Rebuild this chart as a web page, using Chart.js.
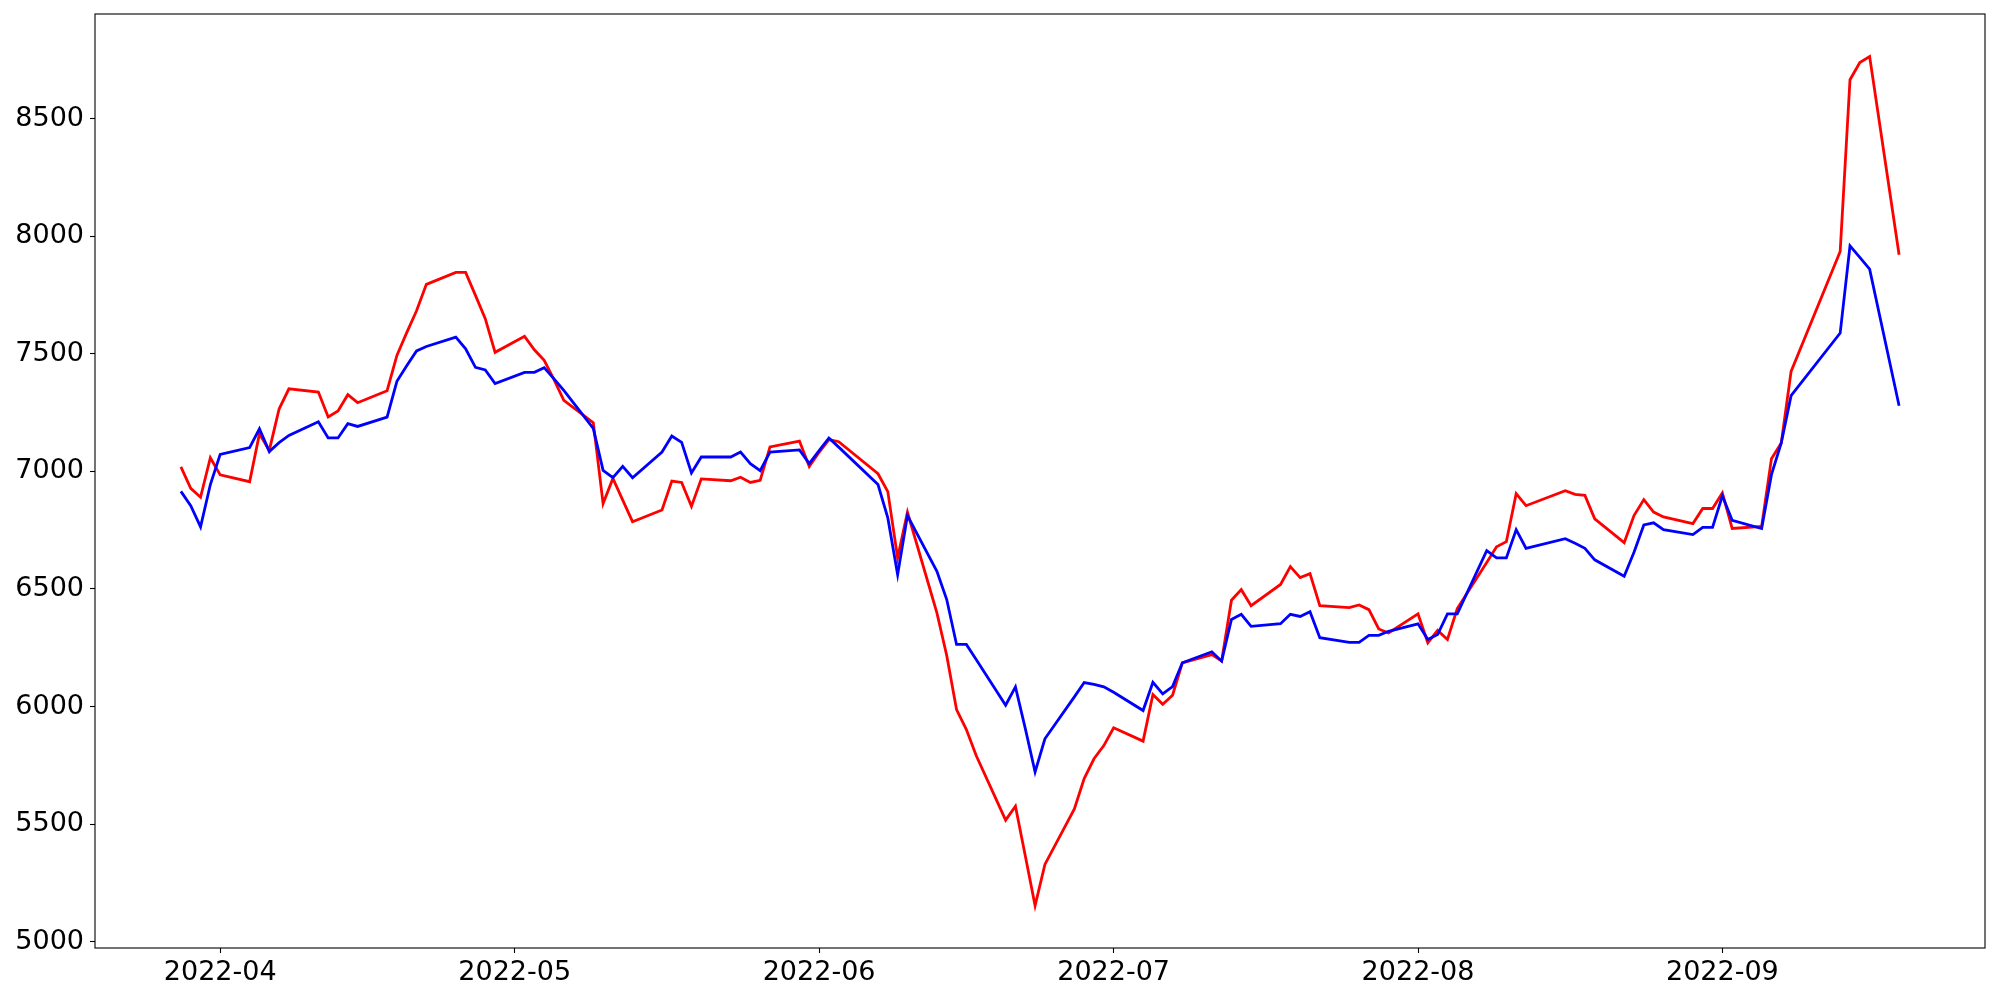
<!DOCTYPE html>
<html>
<head>
<meta charset="utf-8">
<script src="https://cdn.jsdelivr.net/npm/chart.js@4.4.1/dist/chart.umd.min.js"></script>
<style>
  body { margin: 0; background: #fff; }
</style>
</head>
<body>
<canvas id="myChart" width="2000" height="1000"></canvas>
<script>
// trading days
const dates = [
  '2022-03-28','2022-03-29','2022-03-30','2022-03-31','2022-04-01',
  '2022-04-04','2022-04-05','2022-04-06','2022-04-07','2022-04-08',
  '2022-04-11','2022-04-12','2022-04-13','2022-04-14','2022-04-15',
  '2022-04-18','2022-04-19','2022-04-20','2022-04-21','2022-04-22',
  '2022-04-25','2022-04-26','2022-04-27','2022-04-28','2022-04-29',
  '2022-05-02','2022-05-03','2022-05-04','2022-05-05','2022-05-06',
  '2022-05-09','2022-05-10','2022-05-11','2022-05-12','2022-05-13',
  '2022-05-16','2022-05-17','2022-05-18','2022-05-19','2022-05-20',
  '2022-05-23','2022-05-24','2022-05-25','2022-05-26','2022-05-27',
  '2022-05-30','2022-05-31','2022-06-01','2022-06-02','2022-06-03',
  '2022-06-07','2022-06-08','2022-06-09','2022-06-10',
  '2022-06-13','2022-06-14','2022-06-15','2022-06-16','2022-06-17',
  '2022-06-20','2022-06-21','2022-06-22','2022-06-23','2022-06-24',
  '2022-06-27','2022-06-28','2022-06-29','2022-06-30','2022-07-01',
  '2022-07-04','2022-07-05','2022-07-06','2022-07-07','2022-07-08',
  '2022-07-11','2022-07-12','2022-07-13','2022-07-14','2022-07-15',
  '2022-07-18','2022-07-19','2022-07-20','2022-07-21','2022-07-22',
  '2022-07-25','2022-07-26','2022-07-27','2022-07-28','2022-07-29',
  '2022-08-01','2022-08-02','2022-08-03','2022-08-04','2022-08-05',
  '2022-08-08','2022-08-09','2022-08-10','2022-08-11','2022-08-12',
  '2022-08-16','2022-08-17','2022-08-18','2022-08-19',
  '2022-08-22','2022-08-23','2022-08-24','2022-08-25','2022-08-26',
  '2022-08-29','2022-08-30','2022-08-31','2022-09-01','2022-09-02',
  '2022-09-05','2022-09-06','2022-09-07','2022-09-08',
  '2022-09-13','2022-09-14','2022-09-15','2022-09-16',
  '2022-09-19'
];

const redValues = [
  7019,6928,6890,7058,6985,
  6956,7160,7089,7265,7351,
  7337,7231,7257,7326,7292,
  7343,7493,7590,7683,7795,
  7846,7846,7748,7649,7506,
  7574,7517,7472,7390,7302,
  7207,6863,6970,6878,6786,
  6836,6959,6953,6851,6968,
  6960,6975,6953,6962,7104,
  7129,7021,7081,7135,7126,
  6990,6914,6632,6826,
  6398,6217,5987,5902,5792,
  5517,5576,5366,5154,5329,
  5565,5694,5778,5834,5910,
  5853,6051,6010,6048,6186,
  6221,6194,6452,6497,6429,
  6519,6595,6548,6565,6429,
  6421,6432,6412,6330,6313,
  6394,6271,6324,6285,6417,
  6612,6679,6701,6905,6854,
  6918,6902,6898,6798,
  6697,6812,6880,6827,6806,
  6778,6842,6842,6908,6757,
  6766,7054,7121,7425,
  7935,8665,8738,8764,
  7921
];

const blueValues = [
  6915,6854,6764,6944,7072,
  7101,7181,7084,7122,7153,
  7211,7142,7142,7203,7191,
  7231,7383,7449,7512,7531,
  7571,7521,7442,7431,7373,
  7421,7421,7441,7393,7344,
  7183,7004,6973,7021,6973,
  7082,7150,7123,6993,7061,
  7061,7082,7033,7003,7082,
  7091,7033,7088,7142,7103,
  6944,6802,6561,6812,
  6575,6455,6264,6264,6200,
  6006,6084,5907,5722,5863,
  6041,6102,6094,6084,6061,
  5983,6103,6054,6085,6186,
  6233,6193,6370,6392,6341,
  6352,6392,6383,6403,6293,
  6273,6273,6303,6303,6320,
  6352,6285,6306,6394,6394,
  6663,6632,6632,6752,6673,
  6714,6694,6673,6624,
  6554,6656,6772,6781,6752,
  6731,6762,6762,6896,6792,
  6757,6986,7121,7322,
  7588,7959,7910,7860,
  7279
];

const yTickValues = [5000,5500,6000,6500,7000,7500,8000,8500];
const xTickDates = ['2022-04-01','2022-05-01','2022-06-01','2022-07-01','2022-08-01','2022-09-01'];

const start = Date.UTC(2022, 3, 1);
function dayNum(s) {
  const p = s.split('-');
  return (Date.UTC(+p[0], +p[1] - 1, +p[2]) - start) / 86400000;
}

const xs = dates.map(dayNum);
const xMin = xs[0], xMax = xs[xs.length - 1];
const xPad = (xMax - xMin) * 0.05;
const allY = redValues.concat(blueValues);
const yLo = Math.min(...allY), yHi = Math.max(...allY);
const yPad = (yHi - yLo) * 0.05;

const boxPlugin = {
  id: 'box',
  afterDraw(chart) {
    const a = chart.chartArea, c = chart.ctx;
    c.save();
    c.strokeStyle = '#000';
    c.lineWidth = 1.1;
    c.strokeRect(a.left, a.top, a.right - a.left, a.bottom - a.top);
    c.restore();
  }
};

const tickFont = { family: 'DejaVu Sans', size: 27, lineHeight: 1 };

const ctx = document.getElementById('myChart').getContext('2d');
const myChart = new Chart(ctx, {
  type: 'line',
  data: {
    datasets: [
      {
        label: 'red',
        data: xs.map((x, i) => ({x: x, y: redValues[i]})),
        borderColor: '#ff0000',
        borderWidth: 2.8,
        pointRadius: 0,
        tension: 0,
        fill: false,
        order: 2
      },
      {
        label: 'blue',
        data: xs.map((x, i) => ({x: x, y: blueValues[i]})),
        borderColor: '#0000ff',
        borderWidth: 2.8,
        pointRadius: 0,
        tension: 0,
        fill: false,
        order: 1
      }
    ]
  },
  options: {
    responsive: false,
    animation: false,
    devicePixelRatio: 1,
    layout: { padding: { top: 14, right: 15, left: 0, bottom: 0 } },
    plugins: {
      legend: { display: false },
      tooltip: { enabled: false }
    },
    scales: {
      x: {
        type: 'linear',
        min: xMin - xPad,
        max: xMax + xPad,
        afterBuildTicks: (scale) => {
          scale.ticks = xTickDates.map(s => ({value: dayNum(s)}));
        },
        afterFit: (scale) => {
          scale.height = 52;
          scale.paddingLeft = 0;
          scale.paddingRight = 0;
        },
        border: { display: false },
        grid: {
          drawOnChartArea: false,
          drawTicks: true,
          tickLength: 5,
          tickColor: '#000',
          tickWidth: 1.1
        },
        ticks: {
          color: '#000',
          padding: 6,
          maxRotation: 0,
          autoSkip: false,
          font: tickFont,
          callback: (value) => {
            const s = xTickDates.find(d => dayNum(d) === value);
            return s ? s.slice(0, 7) : '';
          }
        }
      },
      y: {
        type: 'linear',
        min: yLo - yPad,
        max: yHi + yPad,
        afterBuildTicks: (scale) => {
          scale.ticks = yTickValues.map(v => ({value: v}));
        },
        afterFit: (scale) => {
          scale.width = 95;
          scale.paddingTop = 0;
          scale.paddingBottom = 0;
        },
        border: { display: false },
        grid: {
          drawOnChartArea: false,
          drawTicks: true,
          tickLength: 5,
          tickColor: '#000',
          tickWidth: 1.1
        },
        ticks: {
          color: '#000',
          padding: 6,
          autoSkip: false,
          font: tickFont,
          callback: (value) => String(value)
        }
      }
    }
  },
  plugins: [boxPlugin]
});
</script>
</body>
</html>
